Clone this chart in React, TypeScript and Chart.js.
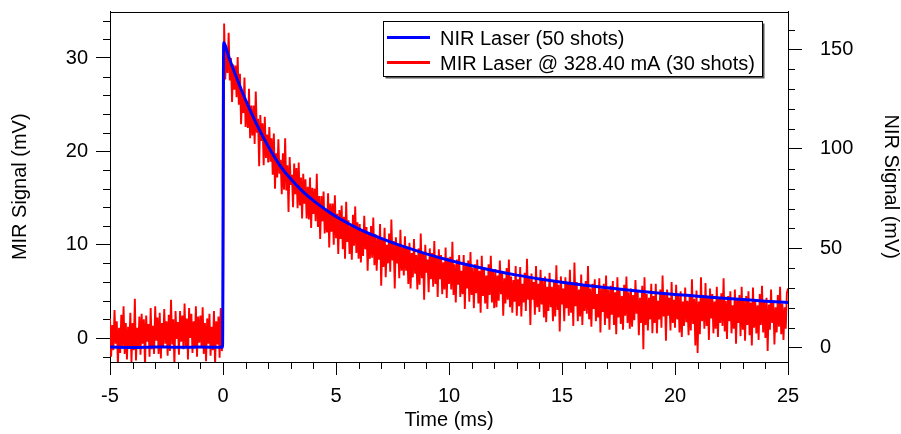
import React, { useEffect, useRef } from "react";
import { Chart, registerables } from "chart.js";

Chart.register(...registerables);

// ---- axes ----
const X_MIN = -5;
const X_MAX = 25;
const LEFT_MIN = -2.57;
const LEFT_MAX = 34.98;
const RIGHT_MIN = -7.2;
const RIGHT_MAX = 169.1;

const X_MAJOR = [-5, 0, 5, 10, 15, 20, 25];
const X_MINOR_STEP = 1;
const LEFT_MAJOR = [0, 10, 20, 30];
const LEFT_MINOR_STEP = 2;
const RIGHT_MAJOR = [0, 50, 100, 150];
const RIGHT_MINOR_STEP = 10;

const X_TITLE = "Time (ms)";
const LEFT_TITLE = "MIR Signal (mV)";
const RIGHT_TITLE = "NIR Signal (mV)";

// ---- NIR (blue, right axis) ----
const NIR_LABEL = "NIR Laser (50 shots)";
const NIR_TIME = [
  -5, -4, -3, -2, -1, -0.02, 0.03, 0.1, 0.25, 0.5, 0.75, 1, 1.33, 1.6, 2, 2.5, 3, 3.5, 4, 4.5,
  5, 6, 7, 8, 9, 10, 11, 12, 13, 14, 15, 16, 17, 18, 19, 20, 21, 22, 23, 24, 25,
];
const NIR_SIGNAL = [
  0.3, 0.1, 0.4, 0.2, 0.3, 0.2, 153.5, 152, 146.5, 138.8, 131.5, 124.6, 116.2, 109.8, 101.3,
  92.0, 84.8, 78.9, 74.0, 69.8, 66.0, 59.8, 55.0, 50.8, 47.2, 44.0, 41.2, 38.7, 36.5, 34.6,
  32.9, 31.4, 30.1, 28.9, 27.8, 26.8, 25.9, 25.0, 24.2, 23.4, 22.7,
];

// ---- MIR (red, left axis), sampled every 0.05 ms from -5 ms ----
const MIR_LABEL = "MIR Laser @ 328.40 mA (30 shots)";
const MIR_T0 = -5;
const MIR_DT = 0.05;
const MIR_SIGNAL = [
  // -5.00 .. -0.05
  2.1, -2.0, 1.4, -1.3, 3.0, -0.6, 1.8, -2.9, 1.1, -1.6, 2.5, -0.9, 3.4, -1.7, 1.6, -2.3, 1.2, -1.1, 2.7, -2.6,
  1.6, -1.3, 4.2, -2.4, 1.1, -0.9, 2.3, -1.8, 2.6, -0.6, 2.0, -3.1, 2.4, -0.4, 1.5, -2.0, 3.2, -1.2, 1.3, -1.7,
  3.4, -0.3, 2.2, -1.7, 2.7, -2.2, 1.6, -1.0, 3.1, -0.6, 1.8, -1.9, 2.5, -1.4, 4.1, -0.7, 2.0, -3.0, 2.9, -0.1,
  1.7, -1.8, 2.9, -0.4, 2.4, -1.2, 3.7, -0.9, 2.1, -2.3, 3.2, 0.0, 2.6, -1.6, 1.8, -1.1, 3.4, -2.0, 2.3, -0.5,
  2.4, -1.1, 3.3, -1.7, 1.6, -2.5, 2.1, -0.6, 2.6, -1.9, 1.2, -1.3, 2.9, -2.9, 1.8, -0.7, 2.3, -2.1, 3.2, -1.4,
  // 0.00
  1.0,
  // 0.05 .. 25.00
  33.7, 27.7, 31.1, 28.4, 32.7, 27.6, 30.0, 25.3, 29.3, 26.6, 29.2, 25.8, 30.1, 25.0, 28.3, 22.9, 26.4, 24.1, 27.9, 22.6,
  25.4, 22.5, 26.7, 21.4, 24.9, 21.7, 24.9, 20.8, 26.4, 22.0, 23.5, 18.4, 23.9, 21.1, 23.0, 18.5, 23.7, 19.3, 21.8, 18.8,
  22.6, 18.9, 21.4, 17.5, 21.9, 16.0, 19.8, 17.2, 21.3, 17.6, 19.1, 15.4, 19.8, 15.9, 21.4, 15.8, 18.5, 13.5, 19.4, 16.4,
  17.5, 14.0, 18.7, 15.4, 18.2, 13.9, 18.8, 14.2, 17.2, 12.8, 17.6, 14.4, 17.0, 12.8, 16.2, 12.7, 17.2, 11.8, 16.1, 13.3,
  16.0, 12.5, 17.6, 11.9, 15.2, 10.6, 15.2, 12.5, 15.7, 11.2, 13.8, 11.3, 15.5, 9.7, 14.4, 11.4, 14.4, 10.0, 15.3, 10.7,
  13.3, 9.0, 13.7, 10.6, 14.2, 9.5, 13.0, 8.5, 14.6, 10.3, 12.6, 9.0, 12.0, 8.4, 13.2, 9.9, 14.1, 9.1, 12.4, 8.5,
  12.2, 8.1, 11.5, 8.8, 13.1, 9.5, 11.9, 7.2, 11.2, 8.5, 12.0, 8.6, 12.9, 7.8, 11.1, 7.2, 10.7, 8.4, 12.2, 5.6,
  10.5, 7.6, 11.8, 6.5, 10.0, 8.0, 11.2, 7.1, 12.7, 8.3, 10.4, 5.3, 10.8, 8.0, 9.9, 6.4, 11.6, 7.2, 9.7, 6.7,
  10.9, 7.2, 9.7, 5.8, 10.2, 5.3, 9.1, 6.5, 10.6, 6.9, 8.9, 5.2, 9.6, 5.7, 11.2, 6.4, 9.1, 4.1, 10.0, 7.0,
  8.4, 4.9, 9.6, 6.3, 9.1, 5.5, 10.4, 5.8, 8.8, 4.4, 9.5, 6.3, 8.9, 4.7, 8.1, 5.2, 9.7, 4.3, 8.6, 5.8,
  8.7, 5.2, 10.3, 4.6, 7.9, 3.8, 8.4, 5.7, 8.9, 4.4, 7.2, 4.7, 8.9, 3.1, 7.8, 5.3, 8.3, 3.9, 9.2, 4.6,
  7.5, 3.2, 7.9, 4.8, 8.4, 3.7, 7.2, 2.7, 8.8, 4.5, 7.3, 3.7, 6.7, 3.1, 7.9, 4.6, 8.8, 3.8, 7.1, 3.2,
  7.4, 3.3, 6.7, 4.0, 8.3, 4.7, 7.1, 2.4, 6.4, 3.7, 7.5, 4.1, 8.4, 3.3, 6.6, 2.7, 6.2, 3.9, 7.7, 2.4,
  6.3, 3.4, 7.6, 2.3, 5.8, 3.8, 7.0, 2.9, 8.5, 4.1, 6.5, 1.4, 6.9, 4.1, 6.0, 2.5, 7.7, 3.3, 5.8, 2.8,
  7.3, 3.6, 6.1, 2.2, 6.6, 1.7, 5.5, 2.9, 7.0, 3.3, 5.5, 1.8, 6.2, 2.3, 7.8, 3.0, 5.7, 0.7, 6.6, 3.6,
  5.3, 1.8, 6.5, 3.2, 6.0, 2.4, 7.3, 2.7, 5.7, 1.3, 8.1, 3.4, 6.0, 1.8, 5.2, 2.3, 6.8, 1.4, 5.7, 2.9,
  6.1, 2.6, 7.7, 2.0, 5.3, 1.2, 5.8, 3.1, 6.3, 1.8, 4.7, 2.2, 6.4, 0.6, 5.3, 2.8, 5.8, 1.4, 6.7, 2.1,
  5.2, 0.9, 5.6, 2.5, 6.1, 1.4, 4.9, 0.4, 6.5, 2.2, 5.1, 1.5, 4.5, 0.9, 5.7, 2.4, 6.6, 1.6, 4.9, 1.0,
  5.3, 1.2, 4.6, 1.9, 6.2, 2.6, 5.0, 0.3, 4.3, 1.6, 5.6, -1.2, 6.5, 1.4, 4.7, 0.8, 4.3, 2.0, 5.8, 0.5,
  4.5, 1.6, 5.8, 0.5, 4.0, 2.0, 5.2, 1.1, 6.7, 2.3, 4.8, -0.3, 5.2, 2.4, 4.3, 0.8, 6.0, 1.6, 4.1, 1.1,
  5.7, 2.0, 4.5, 0.6, 5.0, 0.1, 3.9, 1.3, 5.4, 1.7, 4.0, 0.3, 4.7, 0.8, 6.3, 1.5, 4.2, -0.8, 5.1, -1.6,
  3.9, 0.4, 6.5, 1.8, 4.6, 1.0, 5.9, 1.3, 4.3, -0.2, 5.3, 2.1, 4.7, 0.5, 3.9, 1.0, 5.5, 0.1, 4.4, 1.6,
  4.8, 1.3, 6.4, 0.7, 4.0, -0.1, 4.5, 1.8, 5.0, 0.5, 3.5, 1.0, 5.2, -0.6, 4.1, 1.6, 4.6, 0.2, 5.5, 0.9,
  4.1, -0.3, 4.5, 1.4, 5.0, 0.3, 3.8, -0.8, 5.4, 1.1, 4.1, 0.5, 3.5, -0.2, 4.7, 1.4, 5.6, 0.6, 3.9, 0.0,
  4.3, -1.4, 3.6, 0.9, 5.2, 1.6, 4.0, -0.7, 3.3, 0.6, 4.6, 1.2, 5.5, 0.4, 3.7, -0.2, 3.3, 1.0, 4.8, 5.3,
];

const FONT_FAMILY = "'Liberation Sans', Arial, Helvetica, sans-serif";
const FONT_SIZE = 20;

function buildTicks(min: number, max: number, step: number) {
  const out: { value: number }[] = [];
  const start = Math.ceil(min / step - 1e-9);
  const end = Math.floor(max / step + 1e-9);
  for (let k = start; k <= end; k++) out.push({ value: Math.round(k * step * 1000) / 1000 });
  return out;
}

const isMajor = (v: number, majors: number[]) => majors.some((m) => Math.abs(m - v) < 1e-6);

const framePlugin = {
  id: "frameAndMinor",
  afterDraw(chart: any) {
    const ctx = chart.ctx;
    const { left, right, top, bottom } = chart.chartArea;
    ctx.save();
    ctx.strokeStyle = "#000";
    ctx.lineWidth = 1;
    // top frame
    ctx.beginPath();
    ctx.moveTo(left, Math.round(top) + 0.5);
    ctx.lineTo(right, Math.round(top) + 0.5);
    ctx.stroke();
    // minor ticks
    const minorLen = 7;
    const xs = chart.scales.x;
    ctx.beginPath();
    xs.ticks.forEach((t: any) => {
      if (isMajor(t.value, X_MAJOR)) return;
      const p = Math.round(xs.getPixelForValue(t.value)) + 0.5;
      ctx.moveTo(p, bottom);
      ctx.lineTo(p, bottom + minorLen);
    });
    const ys = chart.scales.y;
    ys.ticks.forEach((t: any) => {
      if (isMajor(t.value, LEFT_MAJOR)) return;
      const p = Math.round(ys.getPixelForValue(t.value)) + 0.5;
      ctx.moveTo(left, p);
      ctx.lineTo(left - minorLen, p);
    });
    const y1 = chart.scales.y1;
    y1.ticks.forEach((t: any) => {
      if (isMajor(t.value, RIGHT_MAJOR)) return;
      const p = Math.round(y1.getPixelForValue(t.value)) + 0.5;
      ctx.moveTo(right, p);
      ctx.lineTo(right + minorLen, p);
    });
    ctx.stroke();

    // legend
    const bx = 383.5, by = 21.5, bw = 379, bh = 55;
    ctx.fillStyle = "#555";
    ctx.fillRect(bx + 2, by + 2, bw, bh);
    ctx.fillStyle = "#fff";
    ctx.fillRect(bx, by, bw, bh);
    ctx.strokeStyle = "#000";
    ctx.lineWidth = 1;
    ctx.strokeRect(bx, by, bw, bh);
    const items = chart.data.datasets.map((d: any) => ({ label: d.label, color: d.borderColor }));
    ctx.font = `${FONT_SIZE}px ${FONT_FAMILY}`;
    ctx.textBaseline = "alphabetic";
    ctx.textAlign = "left";
    items.forEach((it: any, i: number) => {
      const ly = 37.5 + i * 25;
      ctx.strokeStyle = it.color;
      ctx.lineWidth = 3;
      ctx.beginPath();
      ctx.moveTo(387, ly);
      ctx.lineTo(430, ly);
      ctx.stroke();
      ctx.fillStyle = "#000";
      ctx.fillText(it.label, 440, 45 + i * 25);
    });
    ctx.restore();
  },
};

export default function App() {
  const ref = useRef<HTMLCanvasElement | null>(null);
  useEffect(() => {
    if (!ref.current) return;
    const nirData = NIR_TIME.map((t, i) => ({ x: t, y: NIR_SIGNAL[i] }));
    const mirData = MIR_SIGNAL.map((v, i) => ({ x: Math.round((MIR_T0 + i * MIR_DT) * 1000) / 1000, y: v }));
    const font = { family: FONT_FAMILY, size: FONT_SIZE, lineHeight: 1 };
    const chart = new Chart(ref.current, {
      type: "line",
      data: {
        datasets: [
          {
            label: NIR_LABEL,
            data: nirData,
            borderColor: "#0000ff",
            borderWidth: 3,
            pointRadius: 0,
            yAxisID: "y1",
            cubicInterpolationMode: "monotone",
          },
          {
            label: MIR_LABEL,
            data: mirData,
            borderColor: "#ff0000",
            borderWidth: 1.9,
            pointRadius: 0,
            yAxisID: "y",
            tension: 0,
          },
        ],
      },
      options: {
        animation: false,
        responsive: false,
        devicePixelRatio: 1,
        layout: { padding: { top: 11.5, left: 0, right: 0, bottom: 0 } },
        plugins: { legend: { display: false }, tooltip: { enabled: false } },
        scales: {
          x: {
            type: "linear",
            min: X_MIN,
            max: X_MAX,
            afterBuildTicks: (s: any) => { s.ticks = buildTicks(X_MIN, X_MAX, X_MINOR_STEP); },
            afterFit: (s: any) => { s.height = 72; s.paddingLeft = 0; s.paddingRight = 0; },
            ticks: {
              autoSkip: false,
              maxRotation: 0,
              padding: 11,
              color: "#000",
              font,
              callback: (v: any) => (isMajor(Number(v), X_MAJOR) ? String(v) : ""),
            },
            grid: {
              drawOnChartArea: false,
              drawTicks: true,
              tickLength: 13,
              tickColor: (c: any) => (c.tick && isMajor(c.tick.value, X_MAJOR) ? "#000" : "rgba(0,0,0,0)"),
            },
            border: { display: true, color: "#000", width: 1 },
            title: { display: true, text: X_TITLE, color: "#000", font, padding: { top: 0, bottom: 4 } },
          },
          y: {
            type: "linear",
            position: "left",
            min: LEFT_MIN,
            max: LEFT_MAX,
            afterBuildTicks: (s: any) => { s.ticks = buildTicks(LEFT_MIN, LEFT_MAX, LEFT_MINOR_STEP); },
            afterFit: (s: any) => { s.width = 110; s.paddingTop = 0; s.paddingBottom = 0; },
            ticks: {
              autoSkip: false,
              padding: 8,
              color: "#000",
              font,
              callback: (v: any) => (isMajor(Number(v), LEFT_MAJOR) ? String(v) : ""),
            },
            grid: {
              drawOnChartArea: false,
              drawTicks: true,
              tickLength: 14,
              tickColor: (c: any) => (c.tick && isMajor(c.tick.value, LEFT_MAJOR) ? "#000" : "rgba(0,0,0,0)"),
            },
            border: { display: true, color: "#000", width: 1 },
            title: { display: true, text: LEFT_TITLE, color: "#000", font, padding: { top: 10, bottom: 0 } },
          },
          y1: {
            type: "linear",
            position: "right",
            min: RIGHT_MIN,
            max: RIGHT_MAX,
            afterBuildTicks: (s: any) => { s.ticks = buildTicks(RIGHT_MIN, RIGHT_MAX, RIGHT_MINOR_STEP); },
            afterFit: (s: any) => { s.width = 113; s.paddingTop = 0; s.paddingBottom = 0; },
            ticks: {
              autoSkip: false,
              padding: 18,
              color: "#000",
              font,
              callback: (v: any) => (isMajor(Number(v), RIGHT_MAJOR) ? String(v) : ""),
            },
            grid: {
              drawOnChartArea: false,
              drawTicks: true,
              tickLength: 14,
              tickColor: (c: any) => (c.tick && isMajor(c.tick.value, RIGHT_MAJOR) ? "#000" : "rgba(0,0,0,0)"),
            },
            border: { display: true, color: "#000", width: 1 },
            title: { display: true, text: RIGHT_TITLE, color: "#000", font, padding: { top: 0, bottom: 0 } },
          },
        },
      },
      plugins: [framePlugin],
    } as any);
    return () => chart.destroy();
  }, []);
  return (
    <div style={{ position: "absolute", left: 0, top: 0, width: 901, height: 434, background: "#fff" }}>
      <canvas ref={ref} width={901} height={434} style={{ display: "block", width: 901, height: 434 }} />
    </div>
  );
}
